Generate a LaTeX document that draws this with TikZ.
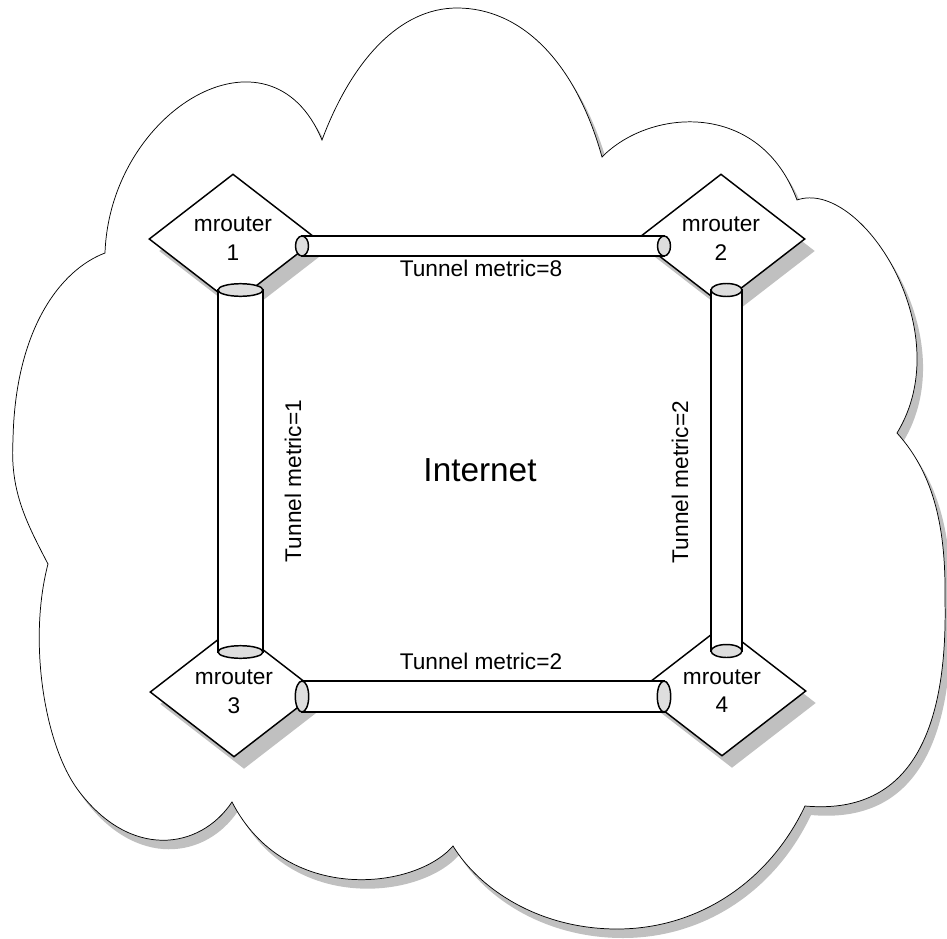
\documentclass[tikz,border=0pt]{standalone}
\usepackage{fontspec}
\setmainfont{Liberation Sans}
\usetikzlibrary{shapes.geometric,shadows,calc}
\definecolor{shgray}{RGB}{192,192,192}
\definecolor{capgray}{RGB}{222,222,222}
\tikzset{
  cloudline/.style={draw=black, line width=0.55pt, fill=white,
    general shadow={fill=shgray, shadow xshift=4.5pt, shadow yshift=-6.75pt}},
  router/.style={diamond, draw, line width=1.1pt, fill=white, aspect=1.29,
    minimum width=126pt, minimum height=97.5pt, inner sep=0pt, align=center,
    font=\fontsize{17}{21.5}\selectfont,
    general shadow={fill=shgray, shadow xshift=7.5pt, shadow yshift=-9pt}},
  tubeline/.style={draw=black, line width=1.1pt},
  lbl/.style={inner sep=0pt, font=\fontsize{17}{21}\selectfont},
  biglbl/.style={inner sep=0pt, font=\fontsize{25}{30}\selectfont}
}
\newcommand\tubeH[4]{%
  \draw[tubeline, fill=white] ($(#1)+(0,-#4)$) rectangle ($(#2)+(0,#4)$);
  \draw[tubeline, fill=capgray] (#1) ellipse [x radius=#3, y radius=#4];
  \draw[tubeline, fill=capgray] (#2) ellipse [x radius=#3, y radius=#4];}
\newcommand\tubeV[4]{%
  \draw[tubeline, fill=white] ($(#1)+(-#3,0)$) rectangle ($(#2)+(#3,0)$);
  \draw[tubeline, fill=capgray] (#1) ellipse [x radius=#3, y radius=#4];
  \draw[tubeline, fill=capgray] (#2) ellipse [x radius=#3, y radius=#4];}
\begin{document}
\begin{tikzpicture}[x=0.75pt, y=-0.75pt]
\fill[white] (0,0) rectangle (947,939);
\useasboundingbox (0,0) rectangle (947,939);

% cloud
\path[cloudline]
  (322,140) .. controls (352,60) and (400,8) .. (457,8)
  .. controls (520,8) and (575,60) .. (602,157)
  .. controls (650,108) and (760,100) .. (797,200)
  .. controls (860,178) and (960,330) .. (897,433)
  .. controls (935,475) and (946,530) .. (945,600)
  .. controls (948,740) and (905,815) .. (805,806)
  .. controls (770,880) and (700,929) .. (617,929)
  .. controls (540,929) and (480,890) .. (453,846)
  .. controls (415,890) and (285,905) .. (232,802)
  .. controls (200,850) and (130,860) .. (78,790)
  .. controls (44,744) and (28,640) .. (48,564)
  .. controls (25,520) and (10,490) .. (13,440)
  .. controls (15,330) and (60,270) .. (105,253)
  .. controls (110,110) and (270,15) .. (322,140)
  -- cycle;

% routers
\node[router] (m1) at (233,239) {mrouter\\1};
\node[router] (m2) at (721,239) {mrouter\\2};
\node[router] (m3) at (234,692) {mrouter\\3};
\node[router] (m4) at (722,691) {mrouter\\4};

% tunnel end points
\coordinate (t12a) at ($(m1)+(69,7)$);
\coordinate (t12b) at ($(m2)+(-57,7)$);
\coordinate (t34a) at ($(m3)+(68,4.5)$);
\coordinate (t34b) at ($(m4)+(-58,5.5)$);
\coordinate (t13a) at ($(m1)+(7.5,51)$);
\coordinate (t13b) at ($(m3)+(6.5,-40)$);
\coordinate (t24a) at ($(m2)+(5.5,51)$);
\coordinate (t24b) at ($(m4)+(4.5,-40)$);

% tunnels
\tubeH{t12a}{t12b}{6.5}{10}
\tubeH{t34a}{t34b}{6.7}{15.5}
\tubeV{t13a}{t13b}{22.5}{6.3}
\tubeV{t24a}{t24b}{15.5}{6.5}

% labels
\node[lbl] (l12) at ($(t12a)!0.5!(t12b)+(-2,22)$) {Tunnel metric=8};
\node[lbl] (l34) at ($(t34a)!0.5!(t34b)+(-2,-35)$) {Tunnel metric=2};
\node[lbl, rotate=90] (l13) at (293,481) {Tunnel metric=1};
\node[lbl, rotate=90] (l24) at (680,482) {Tunnel metric=2};
\node[biglbl] (inet) at (480,470) {Internet};
\end{tikzpicture}
\end{document}
